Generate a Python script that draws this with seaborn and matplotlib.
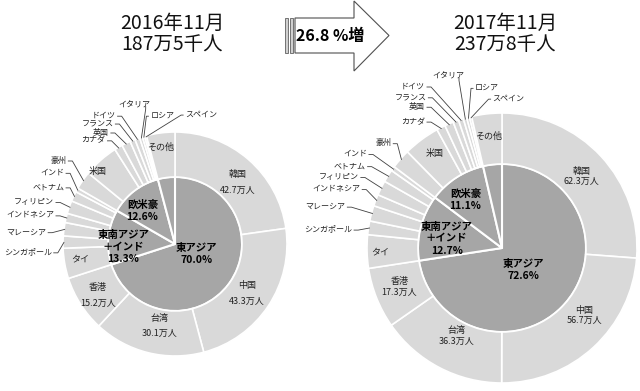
import numpy as np
import pandas as pd
import matplotlib
matplotlib.use('Agg')
import matplotlib.pyplot as plt
from matplotlib.patches import Polygon, Rectangle
import seaborn as sns

sns.set_theme(style='white')
plt.rcParams['font.family'] = ['Noto Sans CJK JP', 'DejaVu Sans']

# visitors (万人), Nov 2016 vs Nov 2017
countries = ['韓国', '中国', '台湾', '香港', 'タイ', 'シンガポール', 'マレーシア', 'インドネシア',
             'フィリピン', 'ベトナム', 'インド', '豪州', '米国', 'カナダ', '英国', 'フランス',
             'ドイツ', 'イタリア', 'ロシア', 'スペイン', 'その他']
regions = ['東アジア'] * 4 + ['東南アジア＋インド'] * 7 + ['欧米豪'] * 9 + ['その他']
v2016 = [42.7, 43.3, 30.1, 15.2, 8.2, 3.3, 3.6, 2.5, 3.5, 2.7, 1.1,
         4.9, 9.5, 2.2, 2.4, 1.4, 1.3, 0.8, 0.6, 0.5, 7.7]
v2017 = [62.3, 56.7, 36.3, 17.3, 9.5, 3.9, 4.4, 3.3, 4.2, 3.6, 1.3,
         5.6, 10.4, 2.5, 2.5, 1.6, 1.4, 1.0, 0.8, 0.6, 8.6]
titles = [('2016年11月', '187万5千人'), ('2017年11月', '237万8千人')]
growth = '26.8 %増'

OUTER = '#d9d9d9'
INNER = '#a6a6a6'
LINE = '#404040'
H = 391

# label layout (offsets in units of outer radius)
in_left = {'韓国': (0.56, 0.55), '中国': (0.64, -0.44), '台湾': (-0.14, -0.73),
           '香港': (-0.69, -0.46), 'タイ': (-0.85, -0.13), '米国': (-0.69, 0.65),
           'その他': (-0.13, 0.86)}
in_right = {'韓国': (0.59, 0.53), '中国': (0.61, -0.50), '台湾': (-0.34, -0.65),
            '香港': (-0.76, -0.29), 'タイ': (-0.90, -0.03), '米国': (-0.50, 0.70),
            'その他': (-0.10, 0.83)}
grp_left = {'東アジア': (0.19, -0.09), '東南アジア＋インド': (-0.46, -0.03), '欧米豪': (-0.29, 0.30)}
grp_right = {'東アジア': (0.16, -0.16), '東南アジア＋インド': (-0.41, 0.07), '欧米豪': (-0.27, 0.36)}
ext_left = {'シンガポール': (-1.10, -0.07, 'right'), 'マレーシア': (-1.15, 0.11, 'right'),
            'インドネシア': (-1.08, 0.26, 'right'), 'フィリピン': (-1.08, 0.38, 'right'),
            'ベトナム': (-0.99, 0.51, 'right'), 'インド': (-0.99, 0.64, 'right'),
            '豪州': (-0.97, 0.75, 'right'), 'カナダ': (-0.62, 0.93, 'right'),
            '英国': (-0.59, 1.00, 'right'), 'フランス': (-0.55, 1.08, 'right'),
            'ドイツ': (-0.53, 1.15, 'right'), 'イタリア': (-0.36, 1.24, 'center'),
            'ロシア': (-0.22, 1.15, 'left'), 'スペイン': (0.09, 1.16, 'left')}
ext_right = {'シンガポール': (-1.11, 0.14, 'right'), 'マレーシア': (-1.16, 0.31, 'right'),
             'インドネシア': (-1.05, 0.44, 'right'), 'フィリピン': (-1.06, 0.53, 'right'),
             'ベトナム': (-1.01, 0.61, 'right'), 'インド': (-1.00, 0.70, 'right'),
             '豪州': (-0.82, 0.78, 'right'), 'カナダ': (-0.57, 0.94, 'right'),
             '英国': (-0.57, 1.05, 'right'), 'フランス': (-0.56, 1.12, 'right'),
             'ドイツ': (-0.57, 1.20, 'right'), 'イタリア': (-0.40, 1.27, 'center'),
             'ロシア': (-0.20, 1.19, 'left'), 'スペイン': (-0.07, 1.11, 'left')}


def draw_pie(ax, vals, cx, cy_px, R, r_in, in_pos, grp_pos, ext_pos, spacing):
    cy = H - cy_px
    df = pd.DataFrame({'country': countries, 'region': regions, 'value': vals})
    grp = df.groupby('region', sort=False)['value'].sum()
    total = df['value'].sum()

    ax.pie(grp.values, radius=r_in, center=(cx, cy), startangle=90, counterclock=False,
           colors=[INNER], wedgeprops=dict(edgecolor='white', linewidth=1.5))
    ax.pie(df['value'], radius=R, center=(cx, cy), startangle=90, counterclock=False,
           colors=[OUTER], wedgeprops=dict(width=R - r_in, edgecolor='white', linewidth=1.2))

    for name, (dx, dy) in grp_pos.items():
        pct = grp[name] / total * 100
        label = name.replace('＋', '\n＋') + f'\n{pct:.1f}%'
        ax.text(cx + dx * R, cy + dy * R, label, ha='center', va='center',
                fontsize=7.5, fontweight='bold', linespacing=1.25, color='black')

    cum = df['value'].cumsum() - df['value'] / 2
    mids = np.deg2rad(90 - 360 * cum / total)
    for i, row in df.iterrows():
        c = row['country']
        if c in in_pos:
            dx, dy = in_pos[c]
            if i < 4:
                txt = f'{c}\n{row["value"]:.1f}万人'
            else:
                txt = c
            ax.text(cx + dx * R, cy + dy * R, txt, ha='center', va='center',
                    fontsize=6.5, linespacing=spacing, color='#222222')
        elif c in ext_pos:
            dx, dy, ha = ext_pos[c]
            tx, ty = cx + dx * R, cy + dy * R
            ax.text(tx, ty, c, ha=ha, va='center', fontsize=5.8, color='#222222')
            wx = cx + 0.99 * R * np.cos(mids[i])
            wy = cy + 0.99 * R * np.sin(mids[i])
            if ha == 'right':
                pts = [(tx + 1.5, ty - 1), (tx + 6, ty - 1), (wx, wy)]
            elif ha == 'left':
                pts = [(tx - 1.5, ty - 1), (tx - 4, ty - 1), (wx, wy)]
            else:
                pts = [(tx + 11, ty - 1), (tx + 11, ty - 4), (wx, wy)]
            xs, ys = zip(*pts)
            ax.plot(xs, ys, color=LINE, lw=0.6, solid_capstyle='butt')


fig = plt.figure(figsize=(6.4, 3.91), dpi=100)
ax = fig.add_axes([0, 0, 1, 1])

draw_pie(ax, v2016, 175, 244, 112, 67, in_left, grp_left, ext_left, 1.9)
draw_pie(ax, v2017, 502, 248, 135, 84, in_right, grp_right, ext_right, 1.25)

ax.set_xlim(0, 640)
ax.set_ylim(0, H)
ax.set_aspect('equal')
ax.axis('off')

# headers
for (l1, l2), x in zip(titles, [172, 505]):
    ax.text(x, H - 23, l1, ha='center', va='center', fontsize=14, color='#111111')
    ax.text(x, H - 45, l2, ha='center', va='center', fontsize=14, color='#111111')

# growth arrow
arrow = [(295, 18), (354, 18), (354, 1), (389, 35.5), (354, 71), (354, 53), (295, 53)]
ax.add_patch(Polygon([(x, H - y) for x, y in arrow], closed=True, facecolor='white',
                     edgecolor='#505050', lw=0.8))
for x0, w in [(285, 2.5), (289.5, 3.5)]:
    ax.add_patch(Rectangle((x0, H - 53), w, 35, facecolor='#d0d0d0', edgecolor='#606060', lw=0.6))
ax.text(330, H - 36, growth, ha='center', va='center', fontsize=11.5, fontweight='bold', color='black')

fig.savefig('out.png', dpi=100)
